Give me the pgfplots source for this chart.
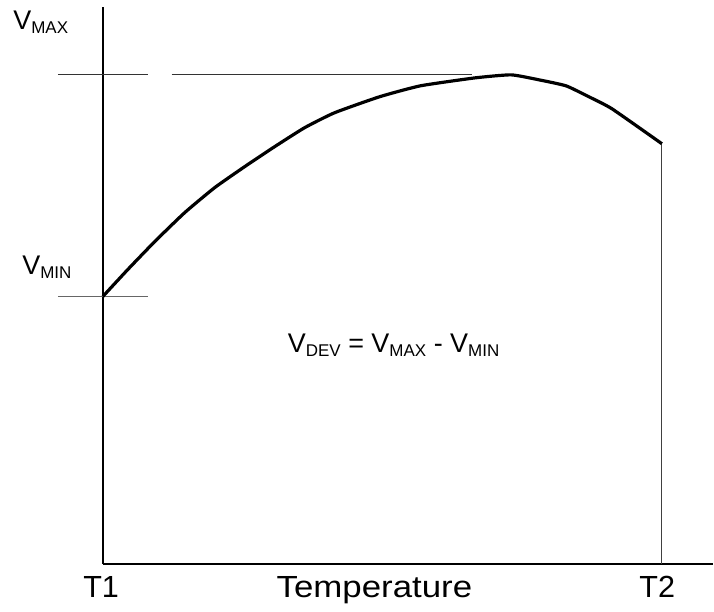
\documentclass[border=0pt]{standalone}
\usepackage{pgfplots}
\pgfplotsset{compat=1.18}
\usepackage{fontspec}
\setmainfont{Liberation Sans}
\newcommand{\Vsub}[1]{{\fontsize{13.5}{13.5}\selectfont V}{\fontsize{8.5}{8.5}\selectfont\raisebox{-2pt}{#1}}}
\begin{document}
\begin{tikzpicture}
\begin{axis}[
  x=0.5pt, y=0.5pt,
  xmin=0, xmax=611, ymin=0, ymax=558,
  axis lines=left,
  axis line style={line width=1.2pt, -},
  ticks=none, clip=false,
]
\path (axis cs:-103,-48) rectangle (axis cs:611,565);
% reference lines
\addplot[black!80, line width=0.6pt] coordinates {(-45,490) (45,490)};
\addplot[black!80, line width=0.6pt] coordinates {(69,490) (370,490)};
\addplot[black!60, line width=0.9pt] coordinates {(-45,268) (45,268)};
\addplot[black!75, line width=0.5pt] coordinates {(560,0) (560,421)};
% curve
\addplot[black, line width=1.6pt, smooth, tension=0.3] coordinates {
(0,268) (25,295) (52,323) (82,352) (112,377) (142,398) (172,418)
(202,437) (232,452) (277,468) (318,479) (373,487) (409,490)
(437,485) (464,479) (487,468) (510,456) (560,421)};
% labels
\node[anchor=base west, inner sep=0pt] at (axis cs:-90,535) {\Vsub{MAX}};
\node[anchor=base west, inner sep=0pt] at (axis cs:-81,290) {\Vsub{MIN}};
\node[anchor=base west, inner sep=0pt] at (axis cs:185,212) {\Vsub{DEV}{\fontsize{13.5}{13.5}\selectfont{} = }\Vsub{MAX}{\fontsize{13.5}{13.5}\selectfont{} - }\Vsub{MIN}};
\node[anchor=base west, inner sep=0pt, font=\fontsize{15.3}{15.3}\selectfont] at (axis cs:-20,-34) {T1};
\node[anchor=base, inner sep=0pt, font=\fontsize{15.3}{15.3}\selectfont] at (axis cs:272,-34) {\scalebox{1.14}[1]{Temperature}};
\node[anchor=base west, inner sep=0pt, font=\fontsize{15.3}{15.3}\selectfont] at (axis cs:537,-34) {T2};
\end{axis}
\end{tikzpicture}
\end{document}
